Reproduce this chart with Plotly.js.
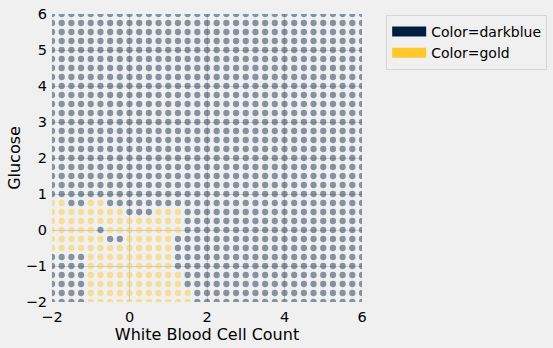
<!DOCTYPE html>
<html>
<head>
<meta charset="utf-8">
<script src="https://cdn.plot.ly/plotly-3.0.1.min.js"></script>
<style>
  html, body { margin: 0; padding: 0; background: #f0f0f0; }
  #chart { width: 553px; height: 348px; }
</style>
</head>
<body>
<div id="chart"></div>
<script>
// Grid levels (step 0.25)
const xLevels = [-2, -1.75, -1.5, -1.25, -1, -0.75, -0.5, -0.25, 0, 0.25, 0.5, 0.75, 1, 1.25, 1.5, 1.75,
                 2, 2.25, 2.5, 2.75, 3, 3.25, 3.5, 3.75, 4, 4.25, 4.5, 4.75, 5, 5.25, 5.5, 5.75, 6];
const yLevels = [6, 5.75, 5.5, 5.25, 5, 4.75, 4.5, 4.25, 4, 3.75, 3.5, 3.25, 3, 2.75, 2.5, 2.25,
                 2, 1.75, 1.5, 1.25, 1, 0.75, 0.5, 0.25, 0, -0.25, -0.5, -0.75, -1, -1.25, -1.5, -1.75, -2];
// Predicted class per grid row (top row y=6 first); d = darkblue, g = gold; one char per x level
const rowClasses = [
  "dddd dddd dddd dddd dddd dddd dddd dddd d", // 6
  "dddd dddd dddd dddd dddd dddd dddd dddd d", // 5.75
  "dddd dddd dddd dddd dddd dddd dddd dddd d", // 5.5
  "dddd dddd dddd dddd dddd dddd dddd dddd d", // 5.25
  "dddd dddd dddd dddd dddd dddd dddd dddd d", // 5
  "dddd dddd dddd dddd dddd dddd dddd dddd d", // 4.75
  "dddd dddd dddd dddd dddd dddd dddd dddd d", // 4.5
  "dddd dddd dddd dddd dddd dddd dddd dddd d", // 4.25
  "dddd dddd dddd dddd dddd dddd dddd dddd d", // 4
  "dddd dddd dddd dddd dddd dddd dddd dddd d", // 3.75
  "dddd dddd dddd dddd dddd dddd dddd dddd d", // 3.5
  "dddd dddd dddd dddd dddd dddd dddd dddd d", // 3.25
  "dddd dddd dddd dddd dddd dddd dddd dddd d", // 3
  "dddd dddd dddd dddd dddd dddd dddd dddd d", // 2.75
  "dddd dddd dddd dddd dddd dddd dddd dddd d", // 2.5
  "dddd dddd dddd dddd dddd dddd dddd dddd d", // 2.25
  "dddd dddd dddd dddd dddd dddd dddd dddd d", // 2
  "dddd dddd dddd dddd dddd dddd dddd dddd d", // 1.75
  "dddd dddd dddd dddd dddd dddd dddd dddd d", // 1.5
  "dddd dddd dddd dddd dddd dddd dddd dddd d", // 1.25
  "dddd dddd dddd dddd dddd dddd dddd dddd d", // 1
  "ggdd ggdd dddd dddd dddd dddd dddd dddd d", // 0.75
  "gggg gggg dddg ggdd dddd dddd dddd dddd d", // 0.5
  "gggg gggg gggg ggdd dddd dddd dddd dddd d", // 0.25
  "gggg gdgg gggg ggdd dddd dddd dddd dddd d", // 0
  "gggg ggdd gggg gddd dddd dddd dddd dddd d", // -0.25
  "gggg gggg gggg gddd dddd dddd dddd dddd d", // -0.5
  "dddd gggg gggg gddd dddd dddd dddd dddd d", // -0.75
  "dddd gggg gggg gddd dddd dddd dddd dddd d", // -1
  "dddd gggg gggg ggdd dddd dddd dddd dddd d", // -1.25
  "dddd gggg gggg ggdd dddd dddd dddd dddd d", // -1.5
  "dddd gggg gggg gggd dddd dddd dddd dddd d", // -1.75
  "dddd gggg gggg gggd dddd dddd dddd dddd d"  // -2
];
const classNames = { d: "darkblue", g: "gold" };
const classColors = { darkblue: "#001e42", gold: "#ffc82c" };
const xTickVals = [-2, 0, 2, 4, 6];
const yTickVals = [-2, -1, 0, 1, 2, 3, 4, 5, 6];

const pts = { darkblue: { x: [], y: [] }, gold: { x: [], y: [] } };
rowClasses.forEach((row, r) => {
  const chars = row.replace(/\s+/g, "");
  for (let c = 0; c < xLevels.length; c++) {
    const name = classNames[chars[c]];
    pts[name].x.push(xLevels[c]);
    pts[name].y.push(yLevels[r]);
  }
});

const traces = [];
["darkblue", "gold"].forEach(name => {
  traces.push({
    type: "scatter", mode: "markers",
    x: pts[name].x, y: pts[name].y,
    marker: { color: classColors[name], size: 6.3, opacity: 0.45, line: { width: 0 } },
    showlegend: false, cliponaxis: true, hoverinfo: "skip"
  });
});
["darkblue", "gold"].forEach(name => {
  traces.push({
    type: "scatter", mode: "lines",
    x: [null], y: [null],
    name: "Color=" + name,
    line: { color: classColors[name], width: 10 },
    showlegend: true
  });
});

const axisCommon = {
  range: [-2, 6], ticks: "",
  showgrid: true, gridcolor: "#cbcbcb", gridwidth: 1,
  zeroline: true, zerolinecolor: "#cbcbcb", zerolinewidth: 1,
  showline: false,
  tickfont: { family: "DejaVu Sans", size: 14.5, color: "#000" }
};

const layout = {
  width: 553, height: 348,
  paper_bgcolor: "#f0f0f0", plot_bgcolor: "#f0f0f0",
  margin: { l: 52, r: 191, t: 14, b: 46, autoexpand: false },
  font: { family: "DejaVu Sans", color: "#000" },
  xaxis: Object.assign({}, axisCommon, {
    tickvals: xTickVals,
    ticklabelstandoff: 4,
    title: { text: "White Blood Cell Count", font: { family: "DejaVu Sans", size: 16, color: "#000" }, standoff: 5 }
  }),
  yaxis: Object.assign({}, axisCommon, {
    tickvals: yTickVals,
    ticklabelstandoff: 4,
    title: { text: "Glucose", font: { family: "DejaVu Sans", size: 16, color: "#000" }, standoff: 1 }
  }),
  legend: {
    x: 1.078, y: 0.997, xanchor: "left", yanchor: "top",
    bgcolor: "#f0f0f0", bordercolor: "#d6d6d6", borderwidth: 1,
    font: { family: "DejaVu Sans", size: 14, color: "#000" },
    itemwidth: 34, tracegroupgap: 0
  },
  showlegend: true
};

Plotly.newPlot("chart", traces, layout, { staticPlot: true, displayModeBar: false });
</script>
</body>
</html>
